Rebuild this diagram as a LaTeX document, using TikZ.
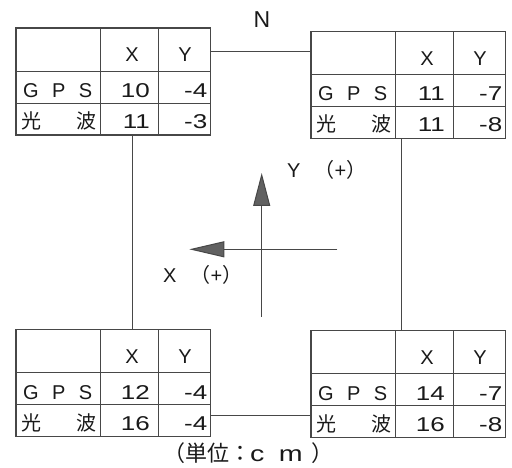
\documentclass[tikz,border=0pt]{standalone}
\usepackage{fontspec}
\setmainfont{Liberation Sans}
\newfontfamily\jp{Noto Sans CJK JP}
\newfontfamily\numfont[FakeStretch=1.3]{Liberation Sans}
\usetikzlibrary{arrows.meta}

% One observation table: name, top-left x, top-left y, GPS X, GPS Y, EDM X, EDM Y
\newcommand\obstable[7]{%
  \node[tbl, anchor=north west] (#1) at (#2,#3) {};
  \draw[rule] ([xshift=84.5pt]#1.north west) -- ([xshift=84.5pt]#1.south west);
  \draw[rule] ([xshift=142.5pt]#1.north west) -- ([xshift=142.5pt]#1.south west);
  \draw[rule] ([yshift=-43pt]#1.north west) -- ([yshift=-43pt]#1.north east);
  \draw[rule] ([yshift=-75pt]#1.north west) -- ([yshift=-75pt]#1.north east);
  \node[cell, anchor=base] (#1-hx) at ([xshift=116pt,yshift=-34pt]#1.north west) {X};
  \node[cell, anchor=base] (#1-hy) at ([xshift=169pt,yshift=-34pt]#1.north west) {Y};
  \node[cell, anchor=base west] (#1-g) at ([xshift=7pt,yshift=-69.5pt]#1.north west)
    {\makebox[69pt][s]{G\hfill P\hfill S}};
  \node[cell, anchor=base west] (#1-k) at ([xshift=5pt,yshift=-100.5pt]#1.north west)
    {\makebox[75pt][s]{\jp 光\hfill 波}};
  \node[num, anchor=base east] (#1-gx) at ([xshift=134pt,yshift=-69.5pt]#1.north west) {#4};
  \node[num, anchor=base east] (#1-gy) at ([xshift=191.5pt,yshift=-69.5pt]#1.north west) {#5};
  \node[num, anchor=base east] (#1-kx) at ([xshift=134pt,yshift=-100.5pt]#1.north west) {#6};
  \node[num, anchor=base east] (#1-ky) at ([xshift=191.5pt,yshift=-100.5pt]#1.north west) {#7};
}

\begin{document}
\begin{tikzpicture}[x=1pt, y=-1pt,
  rule/.style={draw=black!72, line width=0.9pt},
  tbl/.style={rule, line width=1.1pt, minimum width=194.5pt, minimum height=107pt,
    inner sep=0pt, outer sep=0pt},
  cell/.style={inner sep=0pt, font=\fontsize{20}{22}\selectfont, text=black!90},
  num/.style={cell, font=\fontsize{20}{22}\selectfont\numfont},
  label/.style={inner sep=0pt, text=black!90},
  axis/.style={draw=black!72, line width=1pt}]
\useasboundingbox (0,0) rectangle (512,468);

\obstable{tl}{16}{28}{10}{-4}{11}{-3}
\obstable{tr}{311}{31.5}{11}{-7}{11}{-8}
\obstable{bl}{16}{329.5}{12}{-4}{16}{-4}
\obstable{br}{311}{330.5}{14}{-7}{16}{-8}

% links between the four tables
\coordinate (tlA) at ([yshift=-23.7pt]tl.north east);
\draw[rule] (tlA) -- (tlA -| tr.west);
\coordinate (tlB) at ([xshift=116.5pt]tl.south west);
\draw[rule] (tlB) -- (tlB |- bl.north);
\coordinate (trB) at ([xshift=90.7pt]tr.south west);
\draw[rule] (trB) -- (trB |- br.north);
\coordinate (blA) at ([yshift=21pt]bl.south east);
\draw[rule] (blA) -- (blA -| br.west);

% north mark
\node[label, font=\fontsize{23}{26}\selectfont] (north) at (262,19.5) {N};

% coordinate axes
\coordinate (yfoot) at (261.7,316.7);
\coordinate (ytip) at (261.7,173);
\draw[axis, -{Triangle[length=33pt,width=17pt,fill=black!62]}] (yfoot) -- (ytip);
\coordinate (xfoot) at (337.3,249.3);
\coordinate (xtip) at (189.3,249.3);
\draw[axis, -{Triangle[length=35pt,width=16pt,fill=black!62]}] (xfoot) -- (xtip);

\node[label, anchor=base west, font=\fontsize{20}{22}\selectfont] (ylab) at (287,178)
  {Y\hskip 14pt{\jp （}+{\jp ）}};
\node[label, anchor=base west, font=\fontsize{20}{22}\selectfont] (xlab) at (163,283)
  {X\hskip 14pt{\jp （}+{\jp ）}};

% unit note
\node[label, anchor=west, font=\fontsize{22}{24}\selectfont\jp] (unit) at (163,453)
  {（単位：\hskip-1pt{\numfont c}\hskip 14.5pt{\numfont m}\hskip 9pt ）};
\end{tikzpicture}
\end{document}
